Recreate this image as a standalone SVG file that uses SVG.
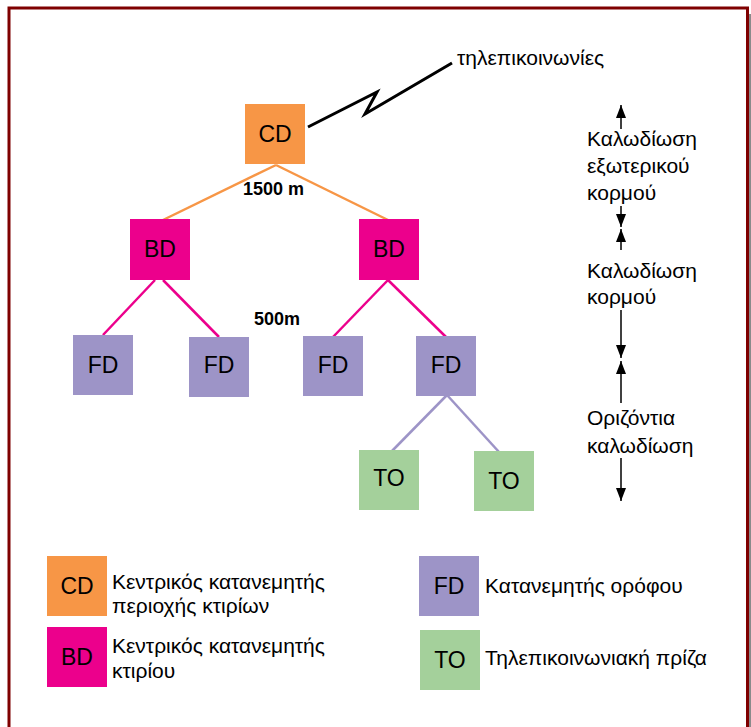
<svg xmlns="http://www.w3.org/2000/svg" width="751" height="727" viewBox="0 0 751 727">
<style>
text{font-family:"Liberation Sans",Arial,sans-serif;fill:#000}
.n{font-size:23px;text-anchor:middle}
.t{font-size:21px}
.b{font-size:18px;font-weight:bold}
.cd{fill:#F79646}
.bd{fill:#EC008C}
.fd{fill:#9D94C7}
.to{fill:#A4D09B}
.lo{stroke:#F79646;stroke-width:2.5;fill:none}
.lb{stroke:#EC008C;stroke-width:2.5;fill:none}
.lf{stroke:#9D94C7;stroke-width:2.5;fill:none}
.ar{stroke:#000;stroke-width:1.5;fill:none;marker-end:url(#ah)}
</style>
<defs>
<marker id="ah" markerUnits="userSpaceOnUse" markerWidth="13" markerHeight="10" refX="13" refY="5" orient="auto">
<path d="M0,0 L13,5 L0,10 z" fill="#000"/>
</marker>
</defs>
<rect x="0" y="0" width="751" height="727" fill="#fff"/>
<rect x="749" y="14" width="2" height="713" fill="#8a8a8a"/>
<rect x="9" y="8" width="738.5" height="740" fill="none" stroke="#7F0000" stroke-width="3"/>

<g id="connectors">
<polyline points="308,127 377,92 365,114 452,63" fill="none" stroke="#000" stroke-width="3"/>
<line class="lo" x1="276" y1="165" x2="163" y2="220"/>
<line class="lo" x1="276" y1="165" x2="388" y2="220"/>
<line class="lb" x1="155" y1="280" x2="103" y2="335"/>
<line class="lb" x1="163" y1="280" x2="219" y2="337"/>
<line class="lb" x1="388" y1="280" x2="333" y2="337"/>
<line class="lb" x1="388" y1="280" x2="446" y2="337"/>
<line class="lf" x1="447" y1="395" x2="392" y2="451"/>
<line class="lf" x1="447" y1="395" x2="499" y2="452"/>
<line class="ar" x1="621" y1="129" x2="621" y2="105"/>
<line class="ar" x1="621" y1="206" x2="621" y2="227"/>
<line class="ar" x1="621" y1="250" x2="621" y2="229"/>
<line class="ar" x1="621" y1="310" x2="621" y2="358"/>
<line class="ar" x1="621" y1="403" x2="621" y2="361"/>
<line class="ar" x1="621" y1="458" x2="621" y2="501"/>
</g>

<text class="t" x="457" y="65">τηλεπικοινωνίες</text>
<text class="b" x="243" y="195">1500 m</text>
<text class="b" x="254" y="325">500m</text>

<g id="cd"><rect class="cd" x="245" y="104" width="60" height="60"/><text class="n" x="275" y="142">CD</text></g>
<g id="bd1"><rect class="bd" x="130" y="219" width="60" height="61"/><text class="n" x="160" y="257">BD</text></g>
<g id="bd2"><rect class="bd" x="359" y="219" width="60" height="61"/><text class="n" x="389" y="257">BD</text></g>
<g id="fd1"><rect class="fd" x="73" y="335" width="60" height="60"/><text class="n" x="103" y="373">FD</text></g>
<g id="fd2"><rect class="fd" x="189" y="337" width="60" height="60"/><text class="n" x="219" y="373">FD</text></g>
<g id="fd3"><rect class="fd" x="303" y="336" width="60" height="60"/><text class="n" x="333" y="373">FD</text></g>
<g id="fd4"><rect class="fd" x="416" y="336" width="60" height="60"/><text class="n" x="446" y="373">FD</text></g>
<g id="to1"><rect class="to" x="359" y="450" width="60" height="60"/><text class="n" x="389" y="486">TO</text></g>
<g id="to2"><rect class="to" x="474" y="451" width="60" height="60"/><text class="n" x="504" y="489">TO</text></g>

<g id="labels-right">
<text class="t" x="587" y="146">Καλωδίωση</text>
<text class="t" x="587" y="173">εξωτερικού</text>
<text class="t" x="587" y="200">κορμού</text>
<text class="t" x="587" y="278">Καλωδίωση</text>
<text class="t" x="587" y="304">κορμού</text>
<text class="t" x="587" y="425">Οριζόντια</text>
<text class="t" x="587" y="453">καλωδίωση</text>
</g>

<g id="legend-cd"><rect class="cd" x="47" y="556" width="60" height="60"/><text class="n" x="77" y="594">CD</text>
<text class="t" x="112" y="589">Κεντρικός κατανεμητής</text><text class="t" x="112" y="613">περιοχής κτιρίων</text></g>
<g id="legend-bd"><rect class="bd" x="47" y="627" width="60" height="60"/><text class="n" x="77" y="665">BD</text>
<text class="t" x="112" y="653">Κεντρικός κατανεμητής</text><text class="t" x="112" y="678">κτιρίου</text></g>
<g id="legend-fd"><rect class="fd" x="419" y="556" width="60" height="60"/><text class="n" x="449" y="594">FD</text>
<text class="t" x="485" y="593">Κατανεμητής ορόφου</text></g>
<g id="legend-to"><rect class="to" x="420" y="630" width="60" height="60"/><text class="n" x="450" y="668">TO</text>
<text class="t" x="485" y="665">Τηλεπικοινωνιακή πρίζα</text></g>
</svg>
